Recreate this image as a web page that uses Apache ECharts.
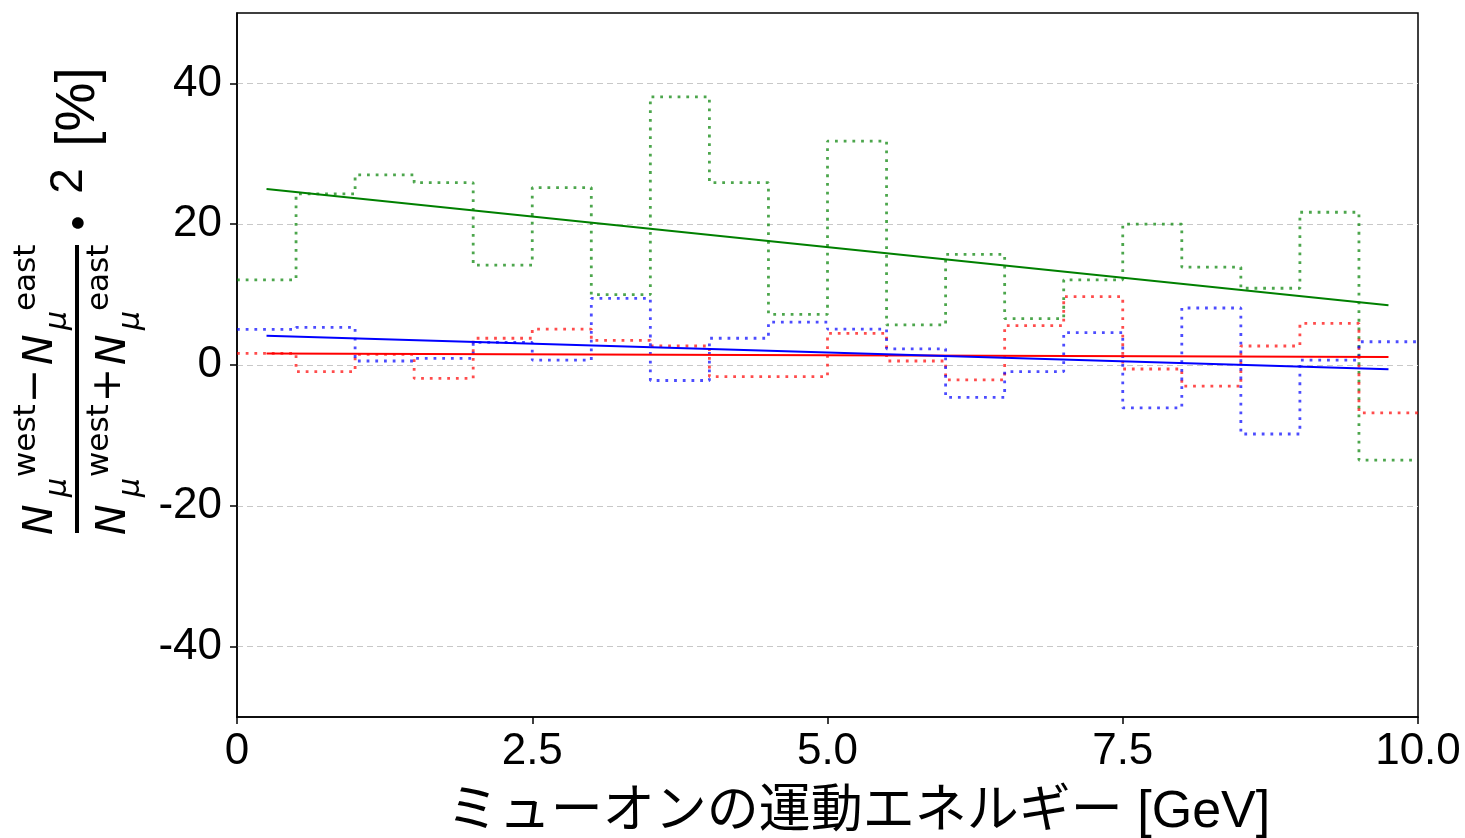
<!DOCTYPE html>
<html>
<head>
<meta charset="utf-8">
<script src="https://cdn.jsdelivr.net/npm/echarts@6/dist/echarts.min.js"></script>
<style>
  html, body { margin: 0; padding: 0; background: #fff; }
  #chart { width: 1465px; height: 838px; }
</style>
</head>
<body>
<div id="chart"></div>
<script>
// bin edges of the muon energy histogram [GeV]
var binEdges = [0, 0.5, 1, 1.5, 2, 2.5, 3, 3.5, 4, 4.5, 5, 5.5, 6, 6.5, 7, 7.5, 8, 8.5, 9, 9.5, 10];
// asymmetry per bin [%]
var greenAsym = [12.1, 24.3, 27.0, 25.9, 14.2, 25.2, 10.0, 38.1, 25.9, 7.2, 31.8, 5.7, 15.7, 6.6, 12.1, 20.0, 13.9, 10.9, 21.7, -13.5];
var redAsym = [1.65, -0.95, 1.5, -1.9, 3.8, 5.1, 3.5, 2.7, -1.65, -1.65, 4.5, 0.57, -2.1, 5.6, 9.7, -0.57, -3.0, 2.7, 5.9, -6.8];
var blueAsym = [5.06, 5.35, 0.57, 0.95, 3.2, 0.7, 9.45, -2.2, 3.8, 6.1, 5.1, 2.3, -4.6, -0.95, 4.6, -6.1, 8.1, -9.8, 0.7, 3.3];
// linear fits (end points)
var fitX = [0.25, 9.75];
var greenFit = [25.0, 8.5];
var redFit = [1.65, 1.13];
var blueFit = [4.16, -0.6];
var yTicks = [-40, -20, 0, 20, 40];

var tickFont = "'Liberation Sans', 'DejaVu Sans', sans-serif";
var mathFont = "'DejaVu Sans'";

function stepPoints(vals) {
  var pts = [];
  for (var i = 0; i < vals.length; i++) {
    pts.push([binEdges[i], vals[i]]);
  }
  pts.push([binEdges[vals.length], vals[vals.length - 1]]);
  return pts;
}
function fitPoints(vals) {
  return [[fitX[0], vals[0]], [fitX[1], vals[1]]];
}
function stepSeries(vals, color) {
  return {
    type: 'line', data: stepPoints(vals), step: 'end',
    symbol: 'none', silent: true,
    lineStyle: { color: color, width: 2.8, type: [2.8, 5.9], cap: 'butt' }
  };
}
function fitSeries(vals, color) {
  return {
    type: 'line', data: fitPoints(vals),
    symbol: 'none', silent: true, z: 3,
    lineStyle: { color: color, width: 2 }
  };
}

// one glyph of the rotated y axis label
function glyph(txt, x, y, size, italic, family, align) {
  return {
    type: 'text', x: x, y: y,
    style: {
      text: txt, fontFamily: family || mathFont, fontSize: size,
      fontStyle: italic ? 'italic' : 'normal', fill: '#000',
      align: align || 'left', verticalAlign: 'middle'
    }
  };
}

var yLabel = {
  type: 'group', x: 77, y: 389, rotation: Math.PI / 2,
  children: [
    // numerator
    glyph('N', -146, -36, 41, true),
    glyph('μ', -108, -19, 30, true),
    glyph('west', -88, -50, 31, false),
    glyph('−', 3, -41, 41, false, mathFont, 'center'),
    glyph('N', 24, -36, 41, true),
    glyph('μ', 59, -19, 30, true),
    glyph('east', 78, -50, 31, false),
    // fraction bar
    { type: 'rect', shape: { x: -144, y: -2, width: 288, height: 4 }, style: { fill: '#000' } },
    // denominator
    glyph('N', -146, 37, 41, true),
    glyph('μ', -108, 54, 30, true),
    glyph('west', -88, 23, 31, false),
    glyph('+', 4, 32, 41, false, mathFont, 'center'),
    glyph('N', 24, 37, 41, true),
    glyph('μ', 59, 54, 30, true),
    glyph('east', 78, 23, 31, false),
    // factor and unit
    glyph('・', 166, 0, 55, false, "'Noto Sans CJK JP'", 'center'),
    glyph('2', 208, -8, 46, false, tickFont, 'center'),
    glyph('[%]', 282, 2, 55, false, tickFont, 'center')
  ]
};

var chart = echarts.init(document.getElementById('chart'));
chart.setOption({
  animation: false,
  backgroundColor: '#fff',
  grid: {
    left: 237, right: 47, top: 13, bottom: 121,
    outerBoundsMode: 'none', containLabel: false,
    show: true, borderColor: '#000', borderWidth: 1.5
  },
  xAxis: {
    type: 'value', min: 0, max: 10, interval: 2.5,
    name: 'ミューオンの運動エネルギー [GeV]',
    nameLocation: 'middle', nameGap: 70,
    nameTextStyle: {
      fontFamily: "'Liberation Sans', 'Noto Sans CJK JP'", fontSize: 52,
      color: '#000', padding: [0, 0, 0, 62]
    },
    axisLine: { show: true, onZero: false, lineStyle: { color: '#000', width: 1.5 } },
    axisTick: { show: true, length: 7, lineStyle: { color: '#000', width: 1.5 } },
    axisLabel: {
      margin: 13, fontSize: 44, fontFamily: tickFont, color: '#000',
      formatter: function (v) { return v === 0 ? '0' : v.toFixed(1); }
    },
    splitLine: { show: false }
  },
  yAxis: {
    type: 'value', min: -50, max: 50,
    axisLine: { show: true, lineStyle: { color: '#000', width: 1.5 } },
    axisTick: { show: true, length: 7, customValues: yTicks, lineStyle: { color: '#000', width: 1.5 } },
    axisLabel: { customValues: yTicks, margin: 15, fontSize: 44, fontFamily: tickFont, color: '#000' },
    splitLine: { show: true, lineStyle: { color: '#c8c8c8', width: 1, type: [6, 4] } }
  },
  graphic: [yLabel],
  series: [
    stepSeries(greenAsym, 'rgba(0,128,0,0.7)'),
    stepSeries(redAsym, 'rgba(255,0,0,0.7)'),
    stepSeries(blueAsym, 'rgba(0,0,255,0.7)'),
    fitSeries(greenFit, '#008000'),
    fitSeries(redFit, '#ff0000'),
    fitSeries(blueFit, '#0000ff')
  ]
});
</script>
</body>
</html>
